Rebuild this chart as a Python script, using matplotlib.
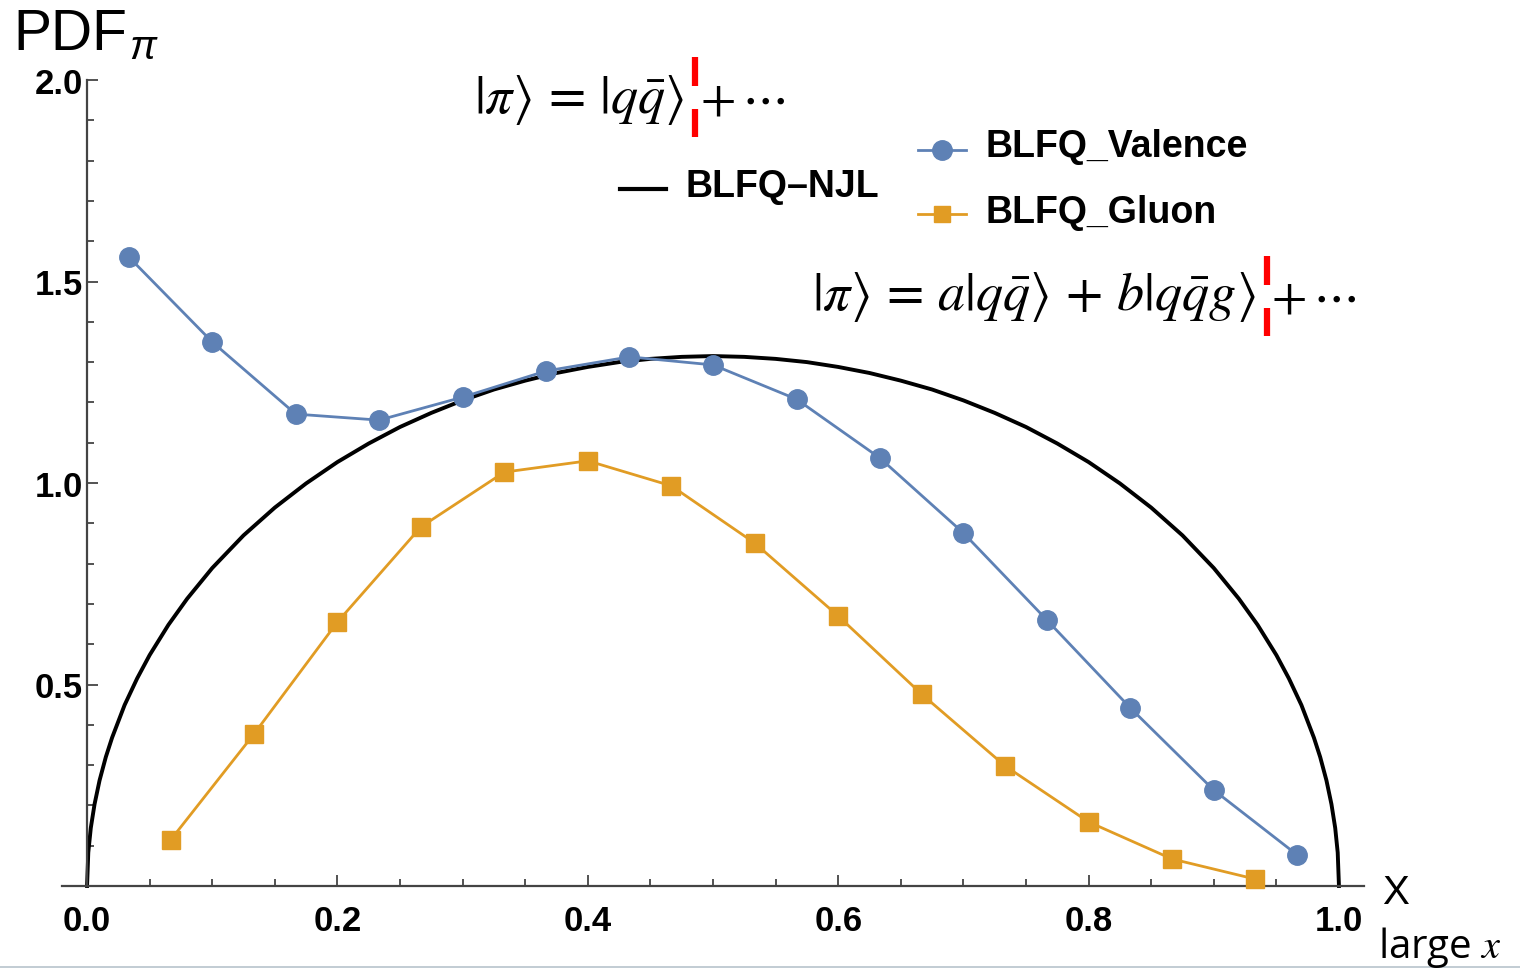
from matplotlib import pyplot as plt
from matplotlib.lines import Line2D
import numpy as np

# data
x_val = [0.0333, 0.1, 0.1667, 0.2333, 0.3, 0.3667, 0.4333, 0.5, 0.5667,
         0.6333, 0.7, 0.7667, 0.8333, 0.9, 0.9667]
pdf_val = [1.561, 1.350, 1.171, 1.156, 1.213, 1.278, 1.313, 1.293, 1.208,
           1.062, 0.876, 0.660, 0.442, 0.238, 0.077]

x_glu = [0.0667, 0.1333, 0.2, 0.2667, 0.3333, 0.4, 0.4667, 0.5333, 0.6,
         0.6667, 0.7333, 0.8, 0.8667, 0.9333]
pdf_glu = [0.114, 0.377, 0.655, 0.891, 1.027, 1.055, 0.993, 0.851, 0.670,
           0.476, 0.298, 0.159, 0.067, 0.017]

x_njl = [0.0, 0.001, 0.003, 0.006, 0.01, 0.015, 0.02, 0.03, 0.04, 0.05, 0.065,
         0.08, 0.1, 0.125, 0.15, 0.175, 0.2, 0.225, 0.25, 0.275, 0.3, 0.325,
         0.35, 0.375, 0.4, 0.425, 0.45, 0.475, 0.5,
         0.525, 0.55, 0.575, 0.6, 0.625, 0.65, 0.675, 0.7, 0.725, 0.75, 0.775,
         0.8, 0.825, 0.85, 0.875, 0.9, 0.92, 0.935, 0.95, 0.96, 0.97, 0.98,
         0.985, 0.99, 0.994, 0.997, 0.999, 1.0]
pdf_njl = [0.0, 0.083, 0.144, 0.203, 0.262, 0.320, 0.368, 0.449, 0.515, 0.573, 0.648,
           0.713, 0.789, 0.870, 0.939, 0.999, 1.052, 1.098, 1.139, 1.174, 1.205, 1.232,
           1.254, 1.273, 1.288, 1.300, 1.308, 1.313, 1.315,
           1.313, 1.308, 1.300, 1.288, 1.273, 1.254, 1.232, 1.205, 1.174, 1.139, 1.098,
           1.052, 0.999, 0.939, 0.870, 0.789, 0.713, 0.648, 0.573, 0.515, 0.449, 0.368,
           0.320, 0.262, 0.203, 0.144, 0.083, 0.0]

blue = '#5E81B5'
orange = '#E19C24'
spine_col = '#444444'

plt.rcParams['mathtext.fontset'] = 'stix'

fig = plt.figure(figsize=(15.2, 9.7), dpi=100)
ax = fig.add_axes([62/1520, 83/970, 1302/1520, 806/970])

ax.plot(x_njl, pdf_njl, color='black', lw=2.8, clip_on=False, zorder=2)
ax.plot(x_val, pdf_val, color=blue, lw=2.0, marker='o', ms=14, clip_on=False, zorder=3)
ax.plot(x_glu, pdf_glu, color=orange, lw=2.0, marker='s', ms=12.5, clip_on=False, zorder=3)

ax.set_xlim(-0.02, 1.02)
ax.set_ylim(0, 2.0)
ax.spines['left'].set_position(('data', 0))
ax.spines['left'].set_bounds(0, 2.0)
ax.spines['top'].set_visible(False)
ax.spines['right'].set_visible(False)
for s in ['left', 'bottom']:
    ax.spines[s].set_color(spine_col)
    ax.spines[s].set_linewidth(1.6)

ax.set_xticks([0.0, 0.2, 0.4, 0.6, 0.8, 1.0])
ax.set_xticklabels(['0.0', '0.2', '0.4', '0.6', '0.8', '1.0'])
ax.set_xticks(np.arange(0.05, 1.0, 0.05), minor=True)
ax.set_yticks([0.5, 1.0, 1.5, 2.0])
ax.set_yticklabels(['0.5', '1.0', '1.5', '2.0'])
ax.set_yticks([0.1, 0.2, 0.3, 0.4, 0.6, 0.7, 0.8, 0.9, 1.1, 1.2, 1.3, 1.4,
               1.6, 1.7, 1.8, 1.9], minor=True)
ax.tick_params(which='both', direction='in', color=spine_col, width=1.3)
ax.tick_params(which='major', length=8)
ax.tick_params(which='minor', length=5)
ax.tick_params(axis='x', which='major', pad=13)
ax.tick_params(axis='y', which='major', pad=3)
for lab in ax.get_xticklabels() + ax.get_yticklabels():
    lab.set_fontfamily('Liberation Sans')
    lab.set_fontweight('bold')
    lab.set_fontsize(25)

# axis titles
fig.text(13/1520, 1 - 35/970, 'PDF', fontsize=41, family='Liberation Sans',
         va='center', ha='left')
fig.text(129/1520, 1 - 48/970, '\u03c0', fontsize=29, family='Liberation Sans',
         style='italic', va='center', ha='left')
fig.text(1382/1520, 1 - 893/970, 'X', fontsize=29, family='Liberation Sans',
         va='center', ha='left')
fig.text(1378/1520, 1 - 948/970, r'large $x$', fontsize=29, family='Open Sans',
         va='center', ha='left')

# legend by hand
lf = dict(fontsize=27, family='Liberation Sans', fontweight='bold', va='center', ha='left')
fig.add_artist(Line2D([918/1520, 942/1520, 966/1520], [1 - 151/970] * 3, color=blue, lw=2.0,
                      marker='o', markevery=[1], ms=14))
fig.add_artist(Line2D([918/1520, 942/1520, 966/1520], [1 - 215/970] * 3, color=orange, lw=2.0,
                      marker='s', markevery=[1], ms=11))
fig.add_artist(Line2D([620/1520, 666/1520], [1 - 190/970, 1 - 190/970], color='black', lw=3))
fig.text(985/1520, 1 - 147/970, 'BLFQ_Valence', **lf)
fig.text(985/1520, 1 - 213/970, 'BLFQ_Gluon', **lf)
fig.text(686/1520, 1 - 187/970, 'BLFQ\u2013NJL', **lf)

# state formulas
fig.text(474/1520, 1 - 100/970, r'$|\pi\rangle\,=\,|q\bar{q}\rangle$', fontsize=39,
         va='center', ha='left')
fig.text(700/1520, 1 - 100/970, r'$+\,\cdots$', fontsize=37, va='center', ha='left')
fig.text(812/1520, 1 - 297/970,
         r'$|\pi\rangle\,=\,a|q\bar{q}\rangle\,+\,b|q\bar{q}g\rangle$', fontsize=39,
         va='center', ha='left')
fig.text(1271/1520, 1 - 297/970, r'$+\,\cdots$', fontsize=37, va='center', ha='left')

# red dashed markers
for xr, yc in [(695, 98), (1267, 297)]:
    fig.add_artist(Line2D([xr/1520, xr/1520], [1 - (yc - 40)/970, 1 - (yc - 11)/970],
                          color='red', lw=4.5, solid_capstyle='butt'))
    fig.add_artist(Line2D([xr/1520, xr/1520], [1 - (yc + 12)/970, 1 - (yc + 40)/970],
                          color='red', lw=4.5, solid_capstyle='butt'))

# thin slide border at the bottom
fig.add_artist(Line2D([0, 1], [2/970, 2/970], color='#b8c4cc', lw=1.2))

plt.savefig('out.png', dpi=100)
